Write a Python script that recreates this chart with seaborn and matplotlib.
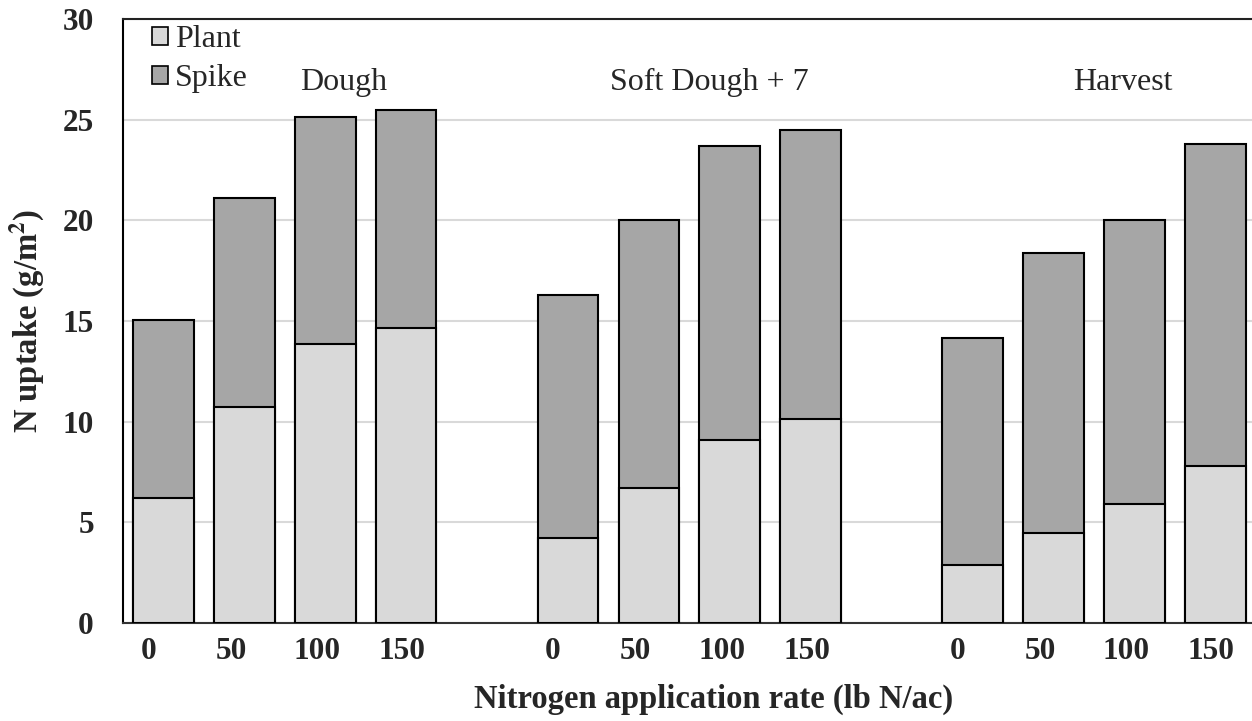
import matplotlib
matplotlib.use("Agg")
import matplotlib.pyplot as plt
import matplotlib.transforms as mtransforms
import seaborn as sns
import pandas as pd
from matplotlib.patches import Patch

# ---- data ----
stages = ["Dough", "Soft Dough + 7", "Harvest"]
rates = ["0", "50", "100", "150"]
plant = [6.23, 10.71, 13.87, 14.66,
         4.21, 6.70, 9.10, 10.13,
         2.87, 4.46, 5.90, 7.78]
spike = [8.83, 10.38, 11.24, 10.80,
         12.06, 13.32, 14.60, 14.35,
         11.28, 13.90, 14.12, 15.99]
series = ["Plant", "Spike"]
yticks = [0, 5, 10, 15, 20, 25, 30]

# ---- build table ----
rows = []
k = 0
for gi, st in enumerate(stages):
    for ri, r in enumerate(rates):
        pos = gi * (len(rates) + 1) + ri
        rows.append({"stage": st, "rate": r, "pos": pos,
                     "plant": plant[k], "spike": spike[k],
                     "total": plant[k] + spike[k]})
        k += 1
df = pd.DataFrame(rows)

sns.set_theme(style="white")
plt.rcParams["font.family"] = ["Liberation Serif", "DejaVu Serif"]
plt.rcParams["mathtext.fontset"] = "stix"

fig = plt.figure(figsize=(12.52, 7.21), dpi=100)
ax = fig.add_axes([123 / 1252, 98 / 721, 1 - 123 / 1252, 604 / 721])

plant_c = "#d9d9d9"
spike_c = "#a6a6a6"

sns.barplot(data=df, x="pos", y="total", native_scale=True, color=spike_c,
            edgecolor="black", linewidth=1.5, width=0.75, saturation=1,
            errorbar=None, ax=ax, zorder=3)
sns.barplot(data=df, x="pos", y="plant", native_scale=True, color=plant_c,
            edgecolor="black", linewidth=1.5, width=0.75, saturation=1,
            errorbar=None, ax=ax, zorder=4)

FS = 23
ax.set_xlim(-0.5, 13.455)
ax.set_ylim(0, 30)
ax.set_yticks(yticks)
ax.set_yticklabels([str(v) for v in yticks], fontsize=22.5, fontweight="bold")
ax.set_xticks(df["pos"])
ax.set_xticklabels(df["rate"], fontsize=22.5, fontweight="bold")
ax.tick_params(axis="y", length=0, pad=21)
ax.tick_params(axis="x", length=0, pad=10)

# slight leftward shift of category labels, as in the original
shift_px = {"0": -15, "50": -13, "100": -8, "150": -4}
for lbl in ax.get_xticklabels():
    dx = shift_px.get(lbl.get_text(), 0) / fig.dpi
    lbl.set_transform(lbl.get_transform() +
                      mtransforms.ScaledTranslation(dx, 0, fig.dpi_scale_trans))

ax.yaxis.grid(True, color="#d9d9d9", linewidth=1.5, zorder=0)
ax.set_axisbelow(True)
for s in ["left", "top", "bottom"]:
    ax.spines[s].set_visible(True)
    ax.spines[s].set_linewidth(1.5)
ax.spines["left"].set_color("black")
ax.spines["top"].set_color("#222222")
ax.spines["bottom"].set_color("#333333")
ax.spines["right"].set_visible(False)

ax.set_xlabel("Nitrogen application rate (lb N/ac)", fontsize=23.5, fontweight="bold")
ax.set_ylabel(r"N uptake (g/m$^\mathbf{2}$)", fontsize=23.5, fontweight="bold")
ax.xaxis.set_label_coords((714 - 123) / 1129, -0.101)
ax.yaxis.set_label_coords(-0.067, 0.5)

# group labels
offsets = [0.73, 0.25, 0.355]
for gi, st in enumerate(stages):
    center = gi * (len(rates) + 1) + (len(rates) - 1) / 2
    ax.text(center + offsets[gi], 26.48, st, ha="center",
            va="baseline", fontsize=FS)

handles = [Patch(facecolor=plant_c, edgecolor="black", linewidth=1.2),
           Patch(facecolor=spike_c, edgecolor="black", linewidth=1.2)]
ax.legend(handles, series, loc="upper left", bbox_to_anchor=(0.0257, 0.99),
          frameon=False, fontsize=FS, handlelength=0.5, handleheight=0.5,
          handletextpad=0.22, labelspacing=0.32, borderaxespad=0,
          borderpad=0)

fig.savefig("out.png", dpi=100)
